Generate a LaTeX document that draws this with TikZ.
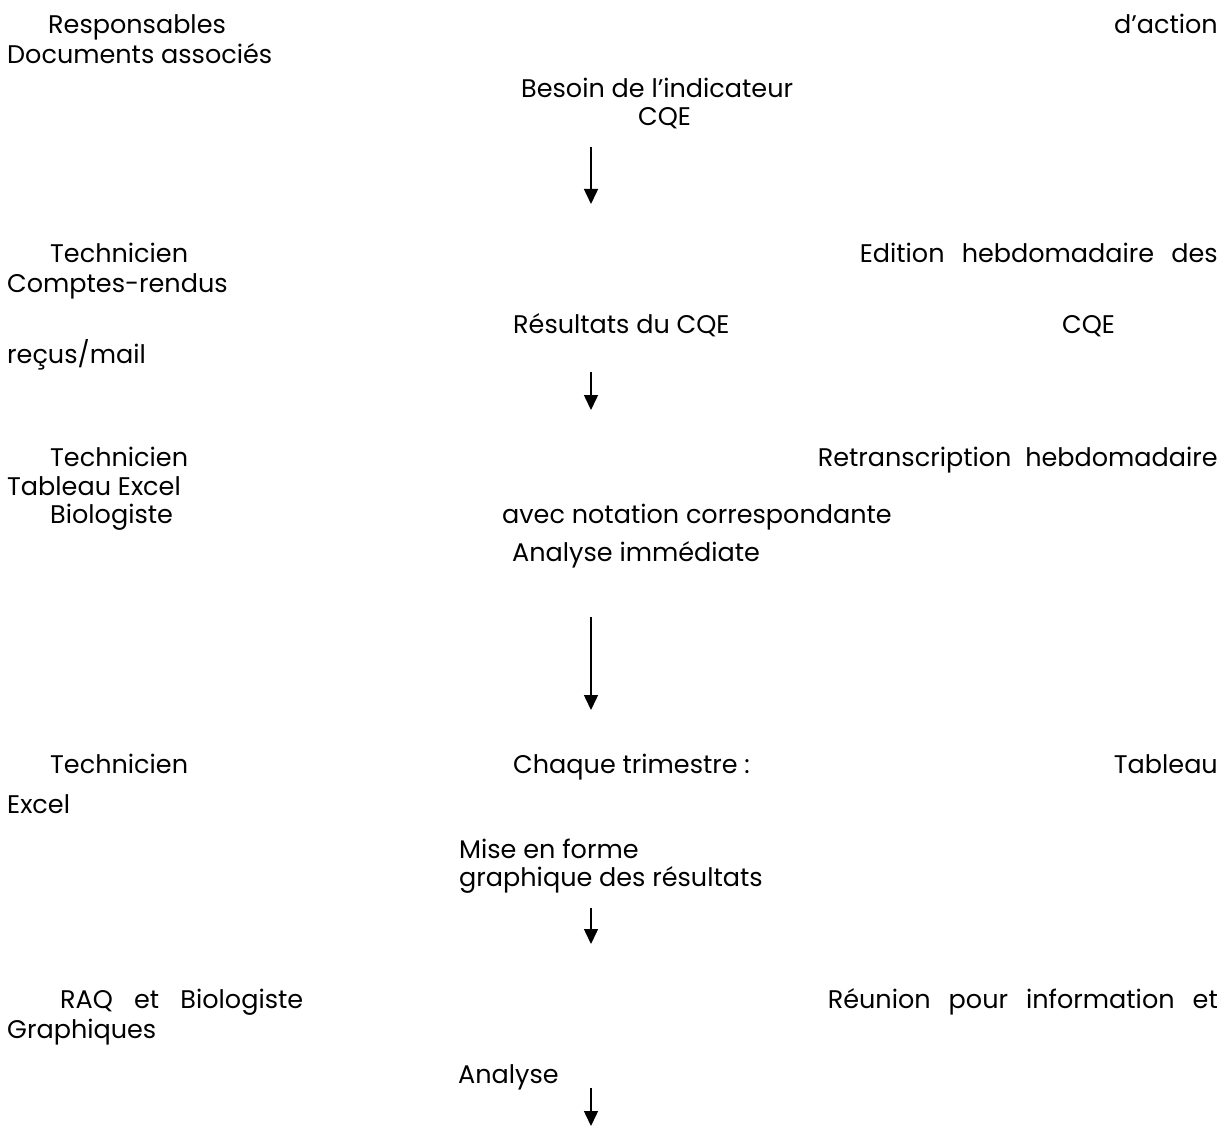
\documentclass[tikz,border=0pt]{standalone}
\usepackage{fontspec}
\setmainfont{Poppins}
\usetikzlibrary{arrows.meta}
\begin{document}
\begin{tikzpicture}[x=1pt,y=-1pt,
  txt/.style={inner sep=0pt,font=\fontsize{25.5}{30}\selectfont,anchor=base west},
  txtr/.style={txt,anchor=base east},
  flow/.style={-{Triangle[length=15pt,width=14pt]},line width=1.5pt}]
\useasboundingbox (0,0) rectangle (1224,1126);
% header
\node[txt]  (resp)  at (48,34)  {Responsables};
\node[txtr] (act)   at (1218,34) {d’action};
\node[txt]  (docs)  at (7,64)   {Documents associés};
% step 1
\node[txt]  (bes)   at (521,98) {Besoin de l’indicateur};
\node[txt]  (cqe1)  at (638,126) {CQE};
\coordinate (a1s) at (591,147);
\coordinate (a1e) at (591,204);
\draw[flow] (a1s) -- (a1e);
% step 2
\node[txt]  (tech1) at (50,263) {Technicien};
\node[txtr] (edit)  at (1218,263) {\makebox[358pt][s]{Edition hebdomadaire des}};
\node[txt]  (cr)    at (7,292) {Comptes-rendus};
\node[txt]  (res)   at (513,333) {Résultats du CQE};
\node[txt]  (cqe2)  at (1062,333) {CQE};
\node[txt]  (recus) at (7,363) {reçus/mail};
\coordinate (a2s) at (591,372);
\coordinate (a2e) at (591,410);
\draw[flow] (a2s) -- (a2e);
% step 3
\node[txt]  (tech2) at (50,466) {Technicien};
\node[txtr] (retr)  at (1218,466) {\makebox[400pt][s]{Retranscription hebdomadaire}};
\node[txt]  (tab1)  at (7,495) {Tableau Excel};
\node[txt]  (bio1)  at (50,523) {Biologiste};
\node[txt]  (avec)  at (502,523) {avec notation correspondante};
\node[txt]  (anim)  at (512,561) {Analyse immédiate};
\coordinate (a3s) at (591,617);
\coordinate (a3e) at (591,710);
\draw[flow] (a3s) -- (a3e);
% step 4
\node[txt]  (tech3) at (50,773) {Technicien};
\node[txt]  (chaq)  at (513,773) {Chaque trimestre :};
\node[txtr] (tab2)  at (1218,773) {Tableau};
\node[txt]  (excel) at (7,813) {Excel};
\node[txt]  (mise)  at (459,858) {Mise en forme};
\node[txt]  (graph) at (459,886) {graphique des résultats};
\coordinate (a4s) at (591,908);
\coordinate (a4e) at (591,944);
\draw[flow] (a4s) -- (a4e);
% step 5
\node[txt]  (raq)   at (60,1008) {\makebox[243pt][s]{RAQ et Biologiste}};
\node[txtr] (reun)  at (1218,1008) {\makebox[390pt][s]{Réunion pour information et}};
\node[txt]  (graf)  at (7,1038) {Graphiques};
\node[txt]  (ana)   at (458,1083) {Analyse};
\coordinate (a5s) at (591,1088);
\coordinate (a5e) at (591,1126);
\draw[flow] (a5s) -- (a5e);
\end{tikzpicture}
\end{document}
